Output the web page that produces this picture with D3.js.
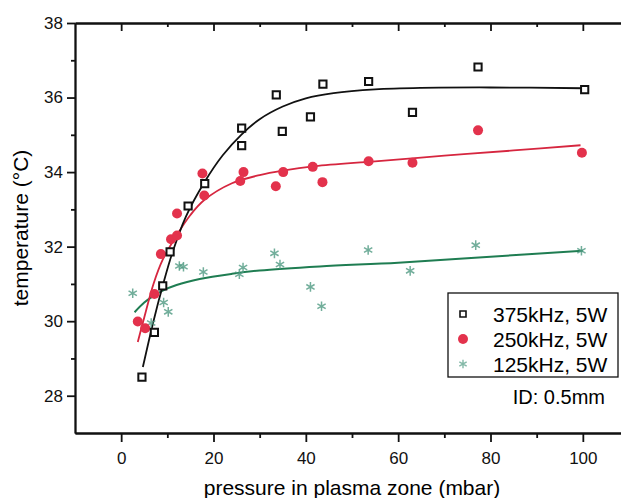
<!DOCTYPE html>
<html>
<head>
<meta charset="utf-8">
<script src="https://cdn.jsdelivr.net/npm/d3@7"></script>
<style>
  body { margin: 0; background: #fff; }
  svg { font-family: "Liberation Sans", Arial, sans-serif; }
  .axis path, .axis line { stroke: #111; stroke-width: 1.8; }
  .axis text { font-size: 17px; fill: #111; }
</style>
</head>
<body>
<script>
'use strict';

// Data
const pressure375 = [4.5, 7.2, 9.0, 10.6, 14.5, 18.1, 26.1, 26.1, 33.6, 34.9, 41.0, 43.7, 53.6, 63.1, 77.3, 100.4];
const temp375 = [28.5, 29.7, 30.95, 31.86, 33.09, 33.69, 35.18, 34.71, 36.07, 35.09, 35.48, 36.36, 36.43, 35.6, 36.82, 36.21];

const pressure250 = [3.6, 5.2, 7.2, 8.6, 10.8, 12.1, 12.1, 17.6, 18.0, 25.8, 26.5, 33.5, 35.1, 41.5, 43.6, 53.6, 63.1, 77.3, 99.8];
const temp250 = [29.99, 29.81, 30.73, 31.8, 32.2, 32.3, 32.89, 33.96, 33.37, 33.76, 34.0, 33.62, 34.0, 34.14, 33.73, 34.29, 34.25, 35.12, 34.52];

const pressure125 = [2.5, 6.5, 9.2, 10.2, 12.6, 13.5, 17.8, 25.6, 26.4, 33.2, 34.4, 41.0, 43.4, 53.5, 62.6, 76.8, 99.7];
const temp125 = [30.75, 29.95, 30.5, 30.25, 31.48, 31.46, 31.32, 31.26, 31.44, 31.82, 31.52, 30.92, 30.4, 31.91, 31.35, 32.04, 31.89];

// Fitted curves, also
const fitX375 = [4.7, 7, 9, 11, 14, 18, 22, 26, 30, 35, 40, 46, 55, 65, 80, 100];
const fitY375 = [28.77, 30.0, 30.95, 31.8, 32.8, 33.72, 34.45, 35.0, 35.42, 35.76, 35.98, 36.12, 36.22, 36.26, 36.27, 36.25];
const fitX250 = [3.6, 5, 7, 9, 12, 15, 18, 24, 30, 35, 42, 55, 70, 85, 99.5];
const fitY250 = [29.44, 30.1, 31.0, 31.65, 32.3, 32.85, 33.25, 33.7, 33.92, 34.04, 34.16, 34.29, 34.44, 34.58, 34.72];
const fitX125 = [2.9, 5, 7, 9, 12, 17, 24, 30, 43, 60, 80, 100];
const fitY125 = [30.24, 30.5, 30.68, 30.82, 30.97, 31.13, 31.27, 31.36, 31.47, 31.57, 31.73, 31.89];

const xTicks = [0, 20, 40, 60, 80, 100];
const xMinor = [10, 30, 50, 70, 90];
const yTicks = [28, 30, 32, 34, 36, 38];
const yMinor = [29, 31, 33, 35, 37];
const legendLabels = ["375kHz, 5W", "250kHz, 5W", "125kHz, 5W"];
const note = "ID: 0.5mm";

const red = "#e3324c";
const green = "#4f9a82";

let svg = d3.select("body").append("svg")
    .attr("width", 621)
    .attr("height", 498);

// Set the ranges
let x = d3.scaleLinear().domain([-10, 110]).range([75, 629]);
let y = d3.scaleLinear().domain([27, 38]).range([433, 23]);

// Axes: bottom and left with labels, top and right as frame
svg.append("g").attr("class", "axis")
    .attr("transform", "translate(0,433)")
    .call(d3.axisBottom(x).tickValues(xTicks).tickSize(9).tickSizeOuter(0).tickPadding(10));
svg.append("g").attr("class", "axis")
    .attr("transform", "translate(0,433)")
    .call(d3.axisBottom(x).tickValues(xMinor).tickSize(5).tickSizeOuter(0).tickFormat(""));
svg.append("g").attr("class", "axis")
    .attr("transform", "translate(75,0)")
    .call(d3.axisLeft(y).tickValues(yTicks).tickSize(8).tickSizeOuter(0).tickPadding(4));
svg.append("g").attr("class", "axis")
    .attr("transform", "translate(75,0)")
    .call(d3.axisLeft(y).tickValues(yMinor).tickSize(4).tickSizeOuter(0).tickFormat(""));
svg.append("g").attr("class", "axis")
    .attr("transform", "translate(0,23)")
    .call(d3.axisBottom(x).tickValues(xTicks).tickSize(8).tickSizeOuter(0).tickFormat(""));
svg.append("g").attr("class", "axis")
    .attr("transform", "translate(0,23)")
    .call(d3.axisBottom(x).tickValues(xMinor).tickSize(4).tickSizeOuter(0).tickFormat(""));
svg.append("g").attr("class", "axis")
    .attr("transform", "translate(629,0)")
    .call(d3.axisLeft(y).tickValues(yTicks).tickSize(8).tickSizeOuter(0).tickFormat(""));

// Axis titles
svg.append("text")
    .attr("x", 352).attr("y", 495)
    .attr("text-anchor", "middle")
    .style("font-size", "21px")
    .text("pressure in plasma zone (mbar)");
svg.append("text")
    .attr("transform", "translate(28,228) rotate(-90)")
    .attr("text-anchor", "middle")
    .style("font-size", "21px")
    .text("temperature (°C)");

// Fit lines
let line = d3.line()
    .x(d => x(d[0]))
    .y(d => y(d[1]))
    .curve(d3.curveCatmullRom.alpha(0.5));

const drawFit = (xs, ys, color, w) => {
    svg.append("path")
        .attr("d", line(d3.zip(xs, ys)))
        .style("fill", "none")
        .style("stroke", color)
        .style("stroke-width", w);
};
drawFit(fitX125, fitY125, "#1f7d52", 2);
drawFit(fitX250, fitY250, "#d6263f", 1.8);
drawFit(fitX375, fitY375, "#111", 1.8);

// Markers
let star = d3.symbol().type(d3.symbolAsterisk).size(64);
let square = d3.symbol().type(d3.symbolSquare).size(52);

svg.append("g").selectAll("path")
    .data(d3.zip(pressure125, temp125))
    .enter().append("path")
    .attr("d", star)
    .attr("transform", d => "translate(" + x(d[0]) + "," + y(d[1]) + ")")
    .style("fill", "none")
    .style("stroke", green)
    .style("stroke-width", 1.5)
    .style("opacity", 0.8);

svg.append("g").selectAll("circle")
    .data(d3.zip(pressure250, temp250))
    .enter().append("circle")
    .attr("cx", d => x(d[0]))
    .attr("cy", d => y(d[1]))
    .attr("r", 5)
    .style("fill", red);

svg.append("g").selectAll("path")
    .data(d3.zip(pressure375, temp375))
    .enter().append("path")
    .attr("d", square)
    .attr("transform", d => "translate(" + x(d[0]) + "," + y(d[1]) + ")")
    .style("fill", "#fff")
    .style("stroke", "#111")
    .style("stroke-width", 2);

// Legend
let legend = svg.append("g").attr("transform", "translate(448,293)");
legend.append("rect")
    .attr("width", 170).attr("height", 84)
    .style("fill", "#fff")
    .style("stroke", "#111")
    .style("stroke-width", 1.3);

legendLabels.forEach((label, i) => {
    let cy = 21 + i * 25;
    if (i === 0) {
        legend.append("path")
            .attr("d", d3.symbol().type(d3.symbolSquare).size(36)())
            .attr("transform", "translate(15," + cy + ")")
            .style("fill", "#fff").style("stroke", "#111").style("stroke-width", 1.6);
    } else if (i === 1) {
        legend.append("circle")
            .attr("cx", 15).attr("cy", cy).attr("r", 5)
            .style("fill", red);
    } else {
        legend.append("path")
            .attr("d", d3.symbol().type(d3.symbolAsterisk).size(50)())
            .attr("transform", "translate(15," + cy + ")")
            .style("fill", "none").style("stroke", green).style("stroke-width", 1.4).style("opacity", 0.7);
    }
    legend.append("text")
        .attr("x", 45).attr("y", cy + 7.5)
        .style("font-size", "21px")
        .text(label);
});

svg.append("text")
    .attr("x", 605).attr("y", 404)
    .attr("text-anchor", "end")
    .style("font-size", "20px")
    .text(note);
</script>
</body>
</html>
